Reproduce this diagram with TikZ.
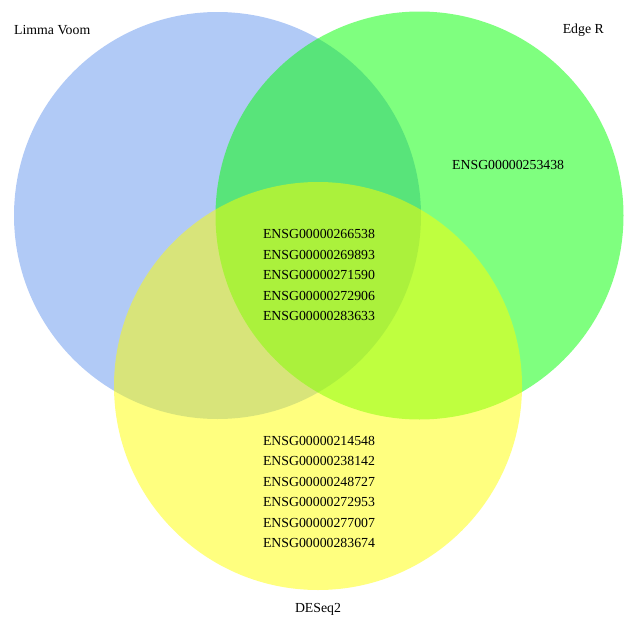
\documentclass[tikz,border=0pt]{standalone}
\usepackage{fontspec}
\setmainfont{Liberation Serif}
\definecolor{vblue}{RGB}{100,149,237}
\definecolor{vgreen}{RGB}{0,255,0}
\definecolor{vyellow}{RGB}{255,255,0}
\begin{document}
\begin{tikzpicture}[x=1pt,y=-1pt,
  setfill/.style={fill=#1,fill opacity=0.5,draw=none},
  lbl/.style={font=\fontsize{13.8}{20.5}\selectfont,inner sep=0pt,text=black},
  genes/.style={lbl,align=left}]
\useasboundingbox (0,0) rectangle (637,629);
\fill[setfill=vblue] (217.5,215.5) circle[radius=203.5];
\fill[setfill=vgreen] (419.5,215.5) circle[radius=204];
\fill[setfill=vyellow] (318,386) circle[radius=204];
\node[lbl,anchor=west] (limma) at (14,30) {Limma Voom};
\node[lbl,anchor=east] (edger) at (604,30) {Edge R};
\node[lbl] (deseq) at (318,609) {DESeq2};
\node[lbl,anchor=west] (g1) at (452,165) {ENSG00000253438};
\node[genes] (mid) at (319,275) {ENSG00000266538\\ENSG00000269893\\ENSG00000271590\\ENSG00000272906\\ENSG00000283633};
\node[genes] (bot) at (319,492) {ENSG00000214548\\ENSG00000238142\\ENSG00000248727\\ENSG00000272953\\ENSG00000277007\\ENSG00000283674};
\end{tikzpicture}
\end{document}
